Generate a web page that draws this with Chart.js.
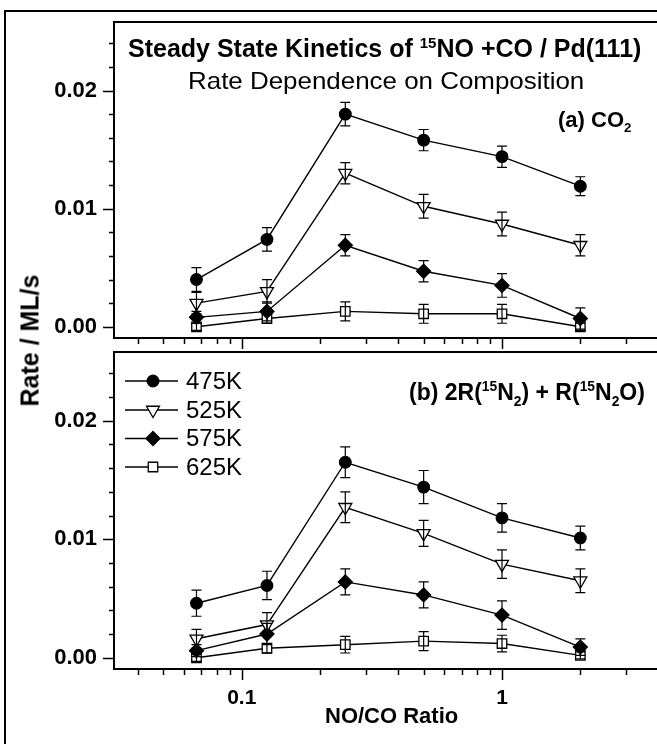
<!DOCTYPE html>
<html>
<head>
<meta charset="utf-8">
<title>Steady State Kinetics of 15NO + CO / Pd(111)</title>
<script src="https://cdn.jsdelivr.net/npm/chart.js@4.4.1/dist/chart.umd.min.js"></script>
<style>
  html, body { margin: 0; padding: 0; background: #fff; overflow: hidden; }
  #wrap { position: relative; width: 657px; height: 744px; overflow: hidden; font-family: "Liberation Sans", Arial, sans-serif; color: #000; }
  #frame { position: absolute; left: 4px; top: 10px; width: 800px; height: 800px; border: 2px solid #000; }
  canvas { position: absolute; left: 0; }
  #chartTop { top: 0; }
  #chartBottom { top: 340px; }
  .txt { position: absolute; white-space: nowrap; line-height: 1; }
  .b { font-weight: bold; }
  sup, sub { font-size: 60%; line-height: 0; }
  #yTitle { left: -120px; top: 328px; width: 300px; text-align: center; font-size: 25px; transform: rotate(-90deg); }
</style>
</head>
<body>
<div id="wrap">
  <div id="frame"></div>
  <canvas id="chartTop" width="700" height="352"></canvas>
  <canvas id="chartBottom" width="700" height="404"></canvas>

  <div class="txt b" style="left:128px; top:36px; font-size:25px;">Steady State Kinetics of <sup>15</sup>NO +CO / Pd(111)</div>
  <div class="txt" style="left:188px; top:69px; font-size:24px; transform:scaleX(1.08); transform-origin:left top;">Rate Dependence on Composition</div>
  <div class="txt b" style="left:558px; top:109px; font-size:22px;">(a) CO<sub>2</sub></div>
  <div class="txt b" style="left:409px; top:381px; font-size:23px;">(b) 2R(<sup>15</sup>N<sub>2</sub>) + R(<sup>15</sup>N<sub>2</sub>O)</div>
  <div class="txt b" id="yTitle">Rate / ML/s</div>
  <div class="txt b" style="left:325px; top:705px; font-size:22px;">NO/CO Ratio</div>
</div>

<script>
// NO/CO ratios (x) and temperatures (series)
const ratios = [0.067, 0.125, 0.25, 0.5, 1, 2];
const temps = ['475K', '525K', '575K', '625K'];

// (a) CO2 production rate, ML/s
const co2_475 = [0.0040, 0.0074, 0.0180, 0.0158, 0.0144, 0.0119];
const co2_525 = [0.0020, 0.0030, 0.0130, 0.0102, 0.0087, 0.0069];
const co2_575 = [0.0008, 0.0013, 0.0069, 0.0047, 0.0035, 0.0007];
const co2_625 = [0.0000, 0.0007, 0.0013, 0.0011, 0.0011, 0.0000];
const co2Err_475 = [0.0010, 0.0010, 0.0010, 0.0009, 0.0009, 0.0008];
const co2Err_525 = [0.0009, 0.0010, 0.0009, 0.0010, 0.0010, 0.0009];
const co2Err_575 = [0.0005, 0.0008, 0.0009, 0.0009, 0.0010, 0.0009];
const co2Err_625 = [0.0003, 0.0004, 0.0008, 0.0008, 0.0008, 0.0003];

// (b) 2R(15N2) + R(15N2O), ML/s
const n2_475 = [0.0046, 0.0061, 0.0165, 0.0144, 0.0118, 0.0101];
const n2_525 = [0.0016, 0.0028, 0.0127, 0.0105, 0.0079, 0.0065];
const n2_575 = [0.0006, 0.0020, 0.0064, 0.0053, 0.0036, 0.0009];
const n2_625 = [0.0000, 0.0008, 0.0011, 0.0014, 0.0012, 0.0002];
const n2Err_475 = [0.0011, 0.0012, 0.0013, 0.0014, 0.0012, 0.0010];
const n2Err_525 = [0.0008, 0.0010, 0.0013, 0.0011, 0.0012, 0.0010];
const n2Err_575 = [0.0005, 0.0009, 0.0011, 0.0011, 0.0012, 0.0007];
const n2Err_625 = [0.0003, 0.0004, 0.0007, 0.0008, 0.0007, 0.0003];

// axis ticks
const xTickValues = [0.04, 0.05, 0.06, 0.07, 0.08, 0.09, 0.1, 0.2, 0.3, 0.4, 0.5, 0.6, 0.7, 0.8, 0.9, 1, 2, 3, 4];
const xTickLabels = { 0.1: '0.1', 1: '1' };
const yTickValues = [0, 0.002, 0.004, 0.006, 0.008, 0.01, 0.012, 0.014, 0.016, 0.018, 0.02, 0.022, 0.024];
const yTickLabels = { 0: '0.00', 0.01: '0.01', 0.02: '0.02' };

const FONT = '"Liberation Sans", Arial, sans-serif';
const X_MIN = 0.0323;
const X_MAX = 4.5;
const Y_MIN = -0.00095;
const Y_MAX = 0.0258;

// marker look per temperature
const markerStyles = [
  { pointStyle: 'circle', pointRadius: 5.8, pointRotation: 0, fill: '#000' },
  { pointStyle: 'triangle', pointRadius: 7.5, pointRotation: 180, fill: '#fff' },
  { pointStyle: 'rectRot', pointRadius: 7, pointRotation: 0, fill: '#000' },
  { pointStyle: 'rect', pointRadius: 6.7, pointRotation: 0, fill: '#fff' },
];

function buildDatasets(series, errors) {
  return series.map((values, i) => ({
    label: temps[i],
    data: values.map((v, j) => ({ x: ratios[j], y: v })),
    errors: errors[i],
    borderColor: '#000',
    borderWidth: 1.4,
    tension: 0,
    fill: false,
    pointStyle: markerStyles[i].pointStyle,
    pointRadius: markerStyles[i].pointRadius,
    pointHoverRadius: markerStyles[i].pointRadius,
    pointRotation: markerStyles[i].pointRotation,
    pointBackgroundColor: markerStyles[i].fill,
    pointBorderColor: '#000',
    pointBorderWidth: 1.3,
  }));
}

const errorBars = {
  id: 'errorBars',
  afterDatasetsDraw(chart) {
    const { ctx, scales: { x, y } } = chart;
    ctx.save();
    ctx.strokeStyle = '#000';
    ctx.lineWidth = 1.2;
    chart.data.datasets.forEach((ds) => {
      ds.data.forEach((p, j) => {
        const e = ds.errors[j];
        const px = x.getPixelForValue(p.x);
        const top = y.getPixelForValue(p.y + e);
        const bot = y.getPixelForValue(p.y - e);
        ctx.beginPath();
        ctx.moveTo(px, top); ctx.lineTo(px, bot);
        ctx.moveTo(px - 5, top); ctx.lineTo(px + 5, top);
        ctx.moveTo(px - 5, bot); ctx.lineTo(px + 5, bot);
        ctx.stroke();
      });
    });
    ctx.restore();
  },
};

// plot frame plus outward tick marks (long for labelled ticks)
const axisFrame = {
  id: 'axisFrame',
  afterDraw(chart) {
    const { ctx, chartArea: a, scales: { x, y } } = chart;
    ctx.save();
    ctx.strokeStyle = '#000';
    ctx.lineWidth = 2;
    ctx.strokeRect(a.left, a.top, a.right - a.left, a.bottom - a.top);
    ctx.lineWidth = 1.5;
    ctx.beginPath();
    y.ticks.forEach((t) => {
      const py = Math.round(y.getPixelForValue(t.value)) + 0.5;
      const len = yTickLabels[t.value] ? 11 : 5;
      ctx.moveTo(a.left - len, py); ctx.lineTo(a.left, py);
    });
    x.ticks.forEach((t) => {
      const px = Math.round(x.getPixelForValue(t.value)) + 0.5;
      const len = xTickLabels[t.value] ? 11 : 6;
      ctx.moveTo(px, a.bottom); ctx.lineTo(px, a.bottom + len);
    });
    ctx.stroke();
    ctx.restore();
  },
};

function drawMarker(ctx, style, x, y) {
  ctx.save();
  ctx.fillStyle = style.fill;
  ctx.strokeStyle = '#000';
  ctx.lineWidth = 1.3;
  ctx.beginPath();
  const r = style.pointRadius;
  if (style.pointStyle === 'circle') {
    ctx.arc(x, y, r, 0, Math.PI * 2);
  } else if (style.pointStyle === 'triangle') {
    ctx.moveTo(x - r * 0.866, y - r * 0.5);
    ctx.lineTo(x + r * 0.866, y - r * 0.5);
    ctx.lineTo(x, y + r);
    ctx.closePath();
  } else if (style.pointStyle === 'rectRot') {
    ctx.moveTo(x - r, y); ctx.lineTo(x, y - r); ctx.lineTo(x + r, y); ctx.lineTo(x, y + r);
    ctx.closePath();
  } else {
    const s = r * Math.SQRT1_2;
    ctx.rect(x - s, y - s, 2 * s, 2 * s);
  }
  ctx.fill();
  ctx.stroke();
  ctx.restore();
}

const lineLegend = {
  id: 'lineLegend',
  afterDraw(chart) {
    const { ctx } = chart;
    const rows = [41, 70, 98.5, 127];
    ctx.save();
    ctx.font = '24px ' + FONT;
    ctx.fillStyle = '#000';
    ctx.textBaseline = 'middle';
    chart.data.datasets.forEach((ds, i) => {
      const yy = rows[i];
      ctx.strokeStyle = '#000';
      ctx.lineWidth = 1.4;
      ctx.beginPath();
      ctx.moveTo(125, yy); ctx.lineTo(178, yy);
      ctx.stroke();
      drawMarker(ctx, markerStyles[i], 153, yy);
      ctx.fillText(ds.label, 186, yy + 1);
    });
    ctx.restore();
  },
};

function makePanel(canvasId, datasets, opts) {
  const ctx = document.getElementById(canvasId).getContext('2d');
  return new Chart(ctx, {
    type: 'line',
    data: { datasets },
    plugins: opts.plugins,
    options: {
      responsive: false,
      animation: false,
      events: [],
      layout: { padding: { top: opts.padTop, right: 28, left: 0, bottom: 0 } },
      plugins: { legend: { display: false }, tooltip: { enabled: false } },
      scales: {
        x: {
          type: 'logarithmic',
          min: X_MIN,
          max: X_MAX,
          afterBuildTicks: (s) => { s.ticks = xTickValues.map((v) => ({ value: v })); },
          afterFit: (s) => {
            s.height = opts.xHeight;
            s.paddingLeft = 0; s.paddingRight = 0; s.paddingTop = 0; s.paddingBottom = 0;
          },
          grid: { display: false, drawTicks: false },
          border: { display: false },
          ticks: {
            display: opts.xLabels,
            autoSkip: false,
            maxRotation: 0,
            padding: 17,
            color: '#000',
            font: { family: FONT, size: 21, weight: 'bold' },
            callback: (v) => xTickLabels[v] || '',
          },
        },
        y: {
          min: Y_MIN,
          max: Y_MAX,
          afterBuildTicks: (s) => { s.ticks = yTickValues.map((v) => ({ value: v })); },
          afterFit: (s) => {
            s.width = 114;
            s.paddingLeft = 0; s.paddingRight = 0; s.paddingTop = 0; s.paddingBottom = 0;
          },
          grid: { display: false, drawTicks: false },
          border: { display: false },
          ticks: {
            autoSkip: false,
            padding: 17,
            color: '#000',
            font: { family: FONT, size: 22, weight: 'bold' },
            callback: (v) => yTickLabels[v] || '',
          },
        },
      },
    },
  });
}

makePanel('chartTop',
  buildDatasets([co2_475, co2_525, co2_575, co2_625], [co2Err_475, co2Err_525, co2Err_575, co2Err_625]),
  { padTop: 22, xHeight: 14, xLabels: false, plugins: [errorBars, axisFrame] });

makePanel('chartBottom',
  buildDatasets([n2_475, n2_525, n2_575, n2_625], [n2Err_475, n2Err_525, n2Err_575, n2Err_625]),
  { padTop: 12, xHeight: 75, xLabels: true, plugins: [errorBars, axisFrame, lineLegend] });
</script>
</body>
</html>
